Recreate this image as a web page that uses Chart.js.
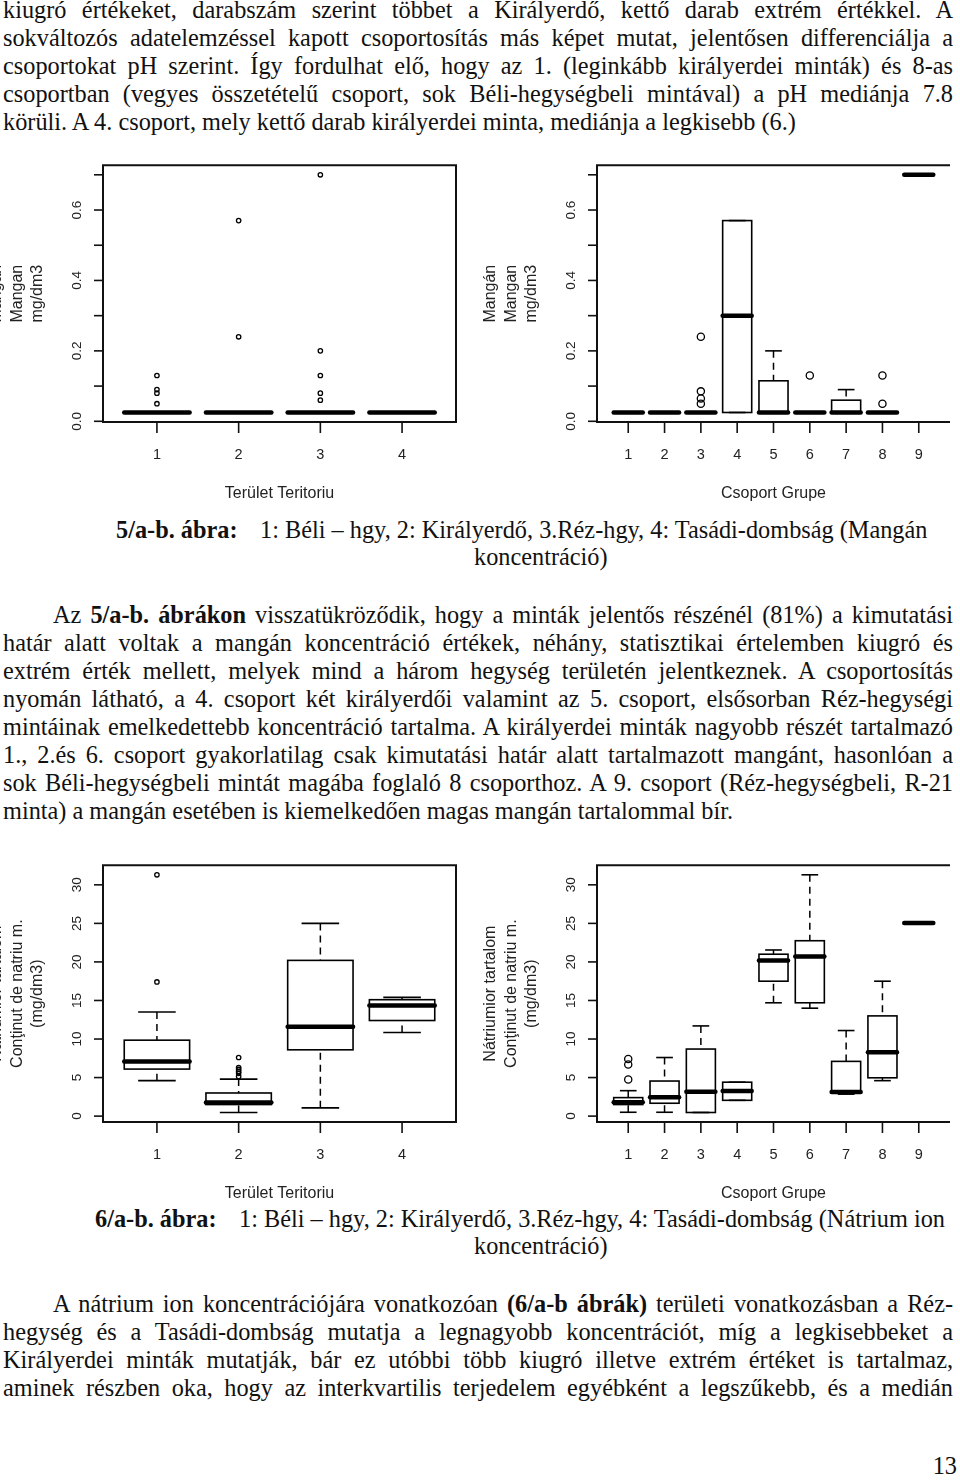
<!DOCTYPE html>
<html lang="hu">
<head>
<meta charset="utf-8">
<title>Mangán és nátrium koncentráció</title>
<script src="https://cdn.jsdelivr.net/npm/chart.js@4.4.1/dist/chart.umd.min.js"></script>
<style>
    html, body { margin: 0; padding: 0; background: #fff; }
    body {
        position: relative; width: 960px; height: 1483px; overflow: hidden;
        font-family: "Liberation Serif", "Times New Roman", serif;
        font-size: 24.3px; color: #111;
    }
    .para { position: absolute; left: 3px; width: 950px; }
    .para div { height: 28px; line-height: 28px; text-align: justify; text-align-last: justify; }
    .para div.last { text-align-last: left; }
    .para div.indent { text-indent: 50px; }
    .cap { position: absolute; white-space: nowrap; line-height: 28px; height: 28px; }
    canvas { position: absolute; }
</style>
</head>
<body>

<div class="para" style="top:-4px">
    <div>kiugró értékeket, darabszám szerint többet a Királyerdő, kettő darab extrém értékkel. A</div>
    <div>sokváltozós adatelemzéssel kapott csoportosítás más képet mutat, jelentősen differenciálja a</div>
    <div>csoportokat pH szerint. Így fordulhat elő, hogy az 1. (leginkább királyerdei minták) és 8-as</div>
    <div>csoportban (vegyes összetételű csoport, sok Béli-hegységbeli mintával) a pH mediánja 7.8</div>
    <div class="last">körüli. A 4. csoport, mely kettő darab királyerdei minta, mediánja a legkisebb (6.)</div>
</div>

<canvas id="mnTer" width="480" height="345" style="left:0;top:160px"></canvas>
<canvas id="mnGrp" width="480" height="345" style="left:480px;top:160px"></canvas>

<div class="cap" style="top:516px;left:116px"><b>5/a-b. ábra:</b></div>
<div class="cap" style="top:516px;left:260px">1: Béli – hgy, 2: Királyerdő, 3.Réz-hgy, 4: Tasádi-dombság (Mangán</div>
<div class="cap" style="top:543px;left:474px">koncentráció)</div>

<div class="para" style="top:601px">
    <div class="indent">Az <b>5/a-b. ábrákon</b> visszatükröződik, hogy a minták jelentős részénél (81%) a kimutatási</div>
    <div>határ alatt voltak a mangán koncentráció értékek, néhány, statisztikai értelemben kiugró és</div>
    <div>extrém érték mellett, melyek mind a három hegység területén jelentkeznek. A csoportosítás</div>
    <div>nyomán látható, a 4. csoport két királyerdői valamint az 5. csoport, elsősorban Réz-hegységi</div>
    <div>mintáinak emelkedettebb koncentráció tartalma. A királyerdei minták nagyobb részét tartalmazó</div>
    <div>1., 2.és 6. csoport gyakorlatilag csak kimutatási határ alatt tartalmazott mangánt, hasonlóan a</div>
    <div>sok Béli-hegységbeli mintát magába foglaló 8 csoporthoz. A 9. csoport (Réz-hegységbeli, R-21</div>
    <div class="last">minta) a mangán esetében is kiemelkedően magas mangán tartalommal bír.</div>
</div>

<canvas id="naTer" width="480" height="345" style="left:0;top:860px"></canvas>
<canvas id="naGrp" width="480" height="345" style="left:480px;top:860px"></canvas>

<div class="cap" style="top:1205px;left:95px"><b>6/a-b. ábra:</b></div>
<div class="cap" style="top:1205px;left:239px">1: Béli – hgy, 2: Királyerdő, 3.Réz-hgy, 4: Tasádi-dombság (Nátrium ion</div>
<div class="cap" style="top:1232px;left:474px">koncentráció)</div>

<div class="para" style="top:1290px">
    <div class="indent">A nátrium ion koncentrációjára vonatkozóan <b>(6/a-b ábrák)</b> területi vonatkozásban a Réz-</div>
    <div>hegység és a Tasádi-dombság mutatja a legnagyobb koncentrációt, míg a legkisebbeket a</div>
    <div>Királyerdei minták mutatják, bár ez utóbbi több kiugró illetve extrém értéket is tartalmaz,</div>
    <div>aminek részben oka, hogy az interkvartilis terjedelem egyébként a legszűkebb, és a medián</div>
</div>

<div class="cap" style="top:1452px;right:3px">13</div>

<script>
// ================== Data ==================
const territoryCats = [1, 2, 3, 4];
const groupCats = [1, 2, 3, 4, 5, 6, 7, 8, 9];

// 5/a: Mangán, terület szerint (mg/dm3)
const mnTerLow  = [0.025, 0.025, 0.025, 0.025];
const mnTerQ1   = [0.025, 0.025, 0.025, 0.025];
const mnTerMed  = [0.025, 0.025, 0.025, 0.025];
const mnTerQ3   = [0.025, 0.025, 0.025, 0.025];
const mnTerHigh = [0.025, 0.025, 0.025, 0.025];
const mnTerOut  = [[0.13, 0.09, 0.08, 0.05], [0.57, 0.24], [0.70, 0.20, 0.13, 0.08, 0.06], []];

// 5/b: Mangán, csoport szerint
const mnGrpLow  = [0.025, 0.025, 0.025, 0.025, 0.025, 0.025, 0.025, 0.025, 0.70];
const mnGrpQ1   = [0.025, 0.025, 0.025, 0.025, 0.025, 0.025, 0.025, 0.025, 0.70];
const mnGrpMed  = [0.025, 0.025, 0.025, 0.30, 0.025, 0.025, 0.025, 0.025, 0.70];
const mnGrpQ3   = [0.025, 0.025, 0.025, 0.57, 0.115, 0.025, 0.06, 0.025, 0.70];
const mnGrpHigh = [0.025, 0.025, 0.025, 0.57, 0.20, 0.025, 0.09, 0.025, 0.70];
const mnGrpOut  = [[], [], [0.24, 0.085, 0.065, 0.05], [], [], [0.13], [], [0.13, 0.05], []];

// 6/a: Nátrium, terület szerint (mg/dm3)
const naTerLow  = [4.6, 0.47, 1.07, 10.85];
const naTerQ1   = [6.1, 1.5, 8.6, 12.4];
const naTerMed  = [7.1, 1.75, 11.6, 14.35];
const naTerQ3   = [9.85, 3.0, 20.2, 15.1];
const naTerHigh = [13.5, 4.8, 25.0, 15.4];
const naTerOut  = [[17.4, 31.3], [7.6, 6.3, 6.05, 5.8, 5.55, 5.15], [], []];

// 6/b: Nátrium, csoport szerint
const naGrpLow  = [0.5, 0.5, 0.47, 2.05, 14.7, 14.0, 2.85, 4.6, 25.05];
const naGrpQ1   = [1.5, 1.67, 0.47, 2.05, 17.5, 14.7, 3.05, 4.97, 25.05];
const naGrpMed  = [1.8, 2.45, 3.15, 3.25, 20.2, 20.7, 3.13, 8.3, 25.05];
const naGrpQ3   = [2.4, 4.55, 8.7, 4.4, 21.0, 22.75, 7.1, 13.0, 25.05];
const naGrpHigh = [3.3, 7.6, 11.7, 4.4, 21.55, 31.3, 11.1, 17.5, 25.05];
const naGrpOut  = [[7.4, 6.7, 4.75], [], [], [], [], [], [], [], []];

// Tick labels
const mnTicks = [0, 0.1, 0.2, 0.3, 0.4, 0.5, 0.6, 0.7];
const mnTickLabels = ['0.0', '', '0.2', '', '0.4', '', '0.6', ''];
const naTicks = [0, 5, 10, 15, 20, 25, 30];
const naTickLabels = ['0', '5', '10', '15', '20', '25', '30'];

const FONT = '"Liberation Sans", Arial, sans-serif';

// R-style axis range: data range widened by 4%
function rRange(lo, hi) {
    const pad = (hi - lo) * 0.04;
    return [lo - pad, hi + pad];
}

function line(ctx, x1, y1, x2, y2) {
    ctx.beginPath();
    ctx.moveTo(x1, y1);
    ctx.lineTo(x2, y2);
    ctx.stroke();
}

// ================== Boxplot plugin (R bxp look) ==================
function rBoxPlugin(cfg) {
    return {
        id: 'rBox',
        beforeDatasetsDraw(chart) {
            const { ctx, scales: { x, y } } = chart;
            ctx.save();
            ctx.strokeStyle = '#000';
            cfg.cats.forEach((c, i) => {
                const xc = x.getPixelForValue(c);
                const bl = x.getPixelForValue(c - 0.4), br = x.getPixelForValue(c + 0.4);
                const sl = x.getPixelForValue(c - 0.23), sr = x.getPixelForValue(c + 0.23);
                const yLo = y.getPixelForValue(cfg.low[i]);
                const yQ1 = y.getPixelForValue(cfg.q1[i]);
                const yMed = y.getPixelForValue(cfg.med[i]);
                const yQ3 = y.getPixelForValue(cfg.q3[i]);
                const yHi = y.getPixelForValue(cfg.high[i]);

                // whiskers (dashed)
                ctx.lineCap = 'butt';
                ctx.lineWidth = 1.5;
                ctx.setLineDash([7, 5]);
                if (yQ3 - yHi > 0.5) line(ctx, xc, yHi, xc, yQ3);
                if (yLo - yQ1 > 0.5) line(ctx, xc, yLo, xc, yQ1);
                ctx.setLineDash([]);

                // staples
                ctx.lineWidth = 1.6;
                line(ctx, sl, yHi, sr, yHi);
                line(ctx, sl, yLo, sr, yLo);

                // box
                ctx.strokeRect(bl, yQ3, br - bl, yQ1 - yQ3);

                // median
                ctx.lineWidth = 4.5;
                ctx.lineCap = 'round';
                line(ctx, bl, yMed, br, yMed);
            });
            ctx.restore();
        },
        afterDraw(chart) {
            const { ctx, chartArea: a, scales: { x, y } } = chart;
            ctx.save();
            ctx.strokeStyle = '#111';
            ctx.lineWidth = 2;
            ctx.beginPath();
            if (cfg.fullFrame) {
                ctx.rect(a.left, a.top, a.right - a.left, a.bottom - a.top);
            } else {
                ctx.moveTo(a.right, a.top);
                ctx.lineTo(a.left, a.top);
                ctx.lineTo(a.left, a.bottom);
                ctx.lineTo(a.right, a.bottom);
            }
            ctx.stroke();

            ctx.lineWidth = 1.6;
            ctx.fillStyle = '#222';
            ctx.textAlign = 'center';
            ctx.textBaseline = 'middle';

            // x axis
            ctx.font = '14.5px ' + FONT;
            cfg.cats.forEach(c => {
                const px = x.getPixelForValue(c);
                line(ctx, px, a.bottom, px, a.bottom + 11);
                ctx.fillText(String(c), px, a.bottom + 33);
            });

            // y axis (labels parallel to the axis)
            ctx.font = '13.5px ' + FONT;
            cfg.ticks.forEach((v, i) => {
                const py = y.getPixelForValue(v);
                line(ctx, a.left - 9, py, a.left, py);
                if (!cfg.tickLabels[i]) return;
                ctx.save();
                ctx.translate(a.left - 26, py);
                ctx.rotate(-Math.PI / 2);
                ctx.fillText(cfg.tickLabels[i], 0, 0);
                ctx.restore();
            });

            // titles
            ctx.font = '16px ' + FONT;
            ctx.fillText(cfg.xTitle, (a.left + a.right) / 2, a.bottom + 72);
            const yMid = (a.top + a.bottom) / 2;
            const n = cfg.yTitle.length;
            cfg.yTitle.forEach((t, i) => {
                ctx.save();
                ctx.translate(a.left - 65 - 20.5 * (n - 1 - i), yMid);
                ctx.rotate(-Math.PI / 2);
                ctx.fillText(t, 0, 0);
                ctx.restore();
            });
            ctx.restore();
        }
    };
}

function drawBoxChart(canvasId, cfg) {
    const points = [];
    cfg.cats.forEach((c, i) => cfg.out[i].forEach(v => points.push({ x: c, y: v })));
    const n = cfg.cats.length;
    const [yMin, yMax] = rRange(cfg.yLo, cfg.yHi);

    return new Chart(document.getElementById(canvasId), {
        type: 'scatter',
        data: {
            datasets: [{
                data: points,
                pointStyle: 'circle',
                pointRadius: cfg.pointR,
                borderColor: '#000',
                backgroundColor: 'rgba(0,0,0,0)',
                borderWidth: 1.3
            }]
        },
        options: {
            responsive: false,
            animation: false,
            devicePixelRatio: 1,
            events: [],
            layout: { padding: cfg.pad },
            plugins: { legend: { display: false }, tooltip: { enabled: false } },
            scales: {
                x: { type: 'linear', display: false, min: 0.5 - 0.04 * n, max: n + 0.5 + 0.04 * n },
                y: { type: 'linear', display: false, min: yMin, max: yMax }
            }
        },
        plugins: [rBoxPlugin(cfg)]
    });
}

// ================== Charts ==================
window.addEventListener('DOMContentLoaded', () => {
    drawBoxChart('mnTer', {
        cats: territoryCats, low: mnTerLow, q1: mnTerQ1, med: mnTerMed, q3: mnTerQ3, high: mnTerHigh, out: mnTerOut,
        yLo: 0.025, yHi: 0.70, ticks: mnTicks, tickLabels: mnTickLabels,
        xTitle: 'Terület Teritoriu', yTitle: ['Mangán', 'Mangan', 'mg/dm3'],
        pad: { left: 103, top: 4, right: 24, bottom: 83 }, pointR: 2.2, fullFrame: true
    });
    drawBoxChart('mnGrp', {
        cats: groupCats, low: mnGrpLow, q1: mnGrpQ1, med: mnGrpMed, q3: mnGrpQ3, high: mnGrpHigh, out: mnGrpOut,
        yLo: 0.025, yHi: 0.70, ticks: mnTicks, tickLabels: mnTickLabels,
        xTitle: 'Csoport Grupe', yTitle: ['Mangán', 'Mangan', 'mg/dm3'],
        pad: { left: 117, top: 4, right: 10, bottom: 83 }, pointR: 3.6, fullFrame: false
    });
    drawBoxChart('naTer', {
        cats: territoryCats, low: naTerLow, q1: naTerQ1, med: naTerMed, q3: naTerQ3, high: naTerHigh, out: naTerOut,
        yLo: 0.47, yHi: 31.3, ticks: naTicks, tickLabels: naTickLabels,
        xTitle: 'Terület Teritoriu', yTitle: ['Nátriumior tartalom', 'Conţinut de natriu m.', '(mg/dm3)'],
        pad: { left: 103, top: 4, right: 24, bottom: 83 }, pointR: 2.2, fullFrame: true
    });
    drawBoxChart('naGrp', {
        cats: groupCats, low: naGrpLow, q1: naGrpQ1, med: naGrpMed, q3: naGrpQ3, high: naGrpHigh, out: naGrpOut,
        yLo: 0.47, yHi: 31.3, ticks: naTicks, tickLabels: naTickLabels,
        xTitle: 'Csoport Grupe', yTitle: ['Nátriumior tartalom', 'Conţinut de natriu m.', '(mg/dm3)'],
        pad: { left: 117, top: 4, right: 10, bottom: 83 }, pointR: 3.6, fullFrame: false
    });
});
</script>
</body>
</html>
